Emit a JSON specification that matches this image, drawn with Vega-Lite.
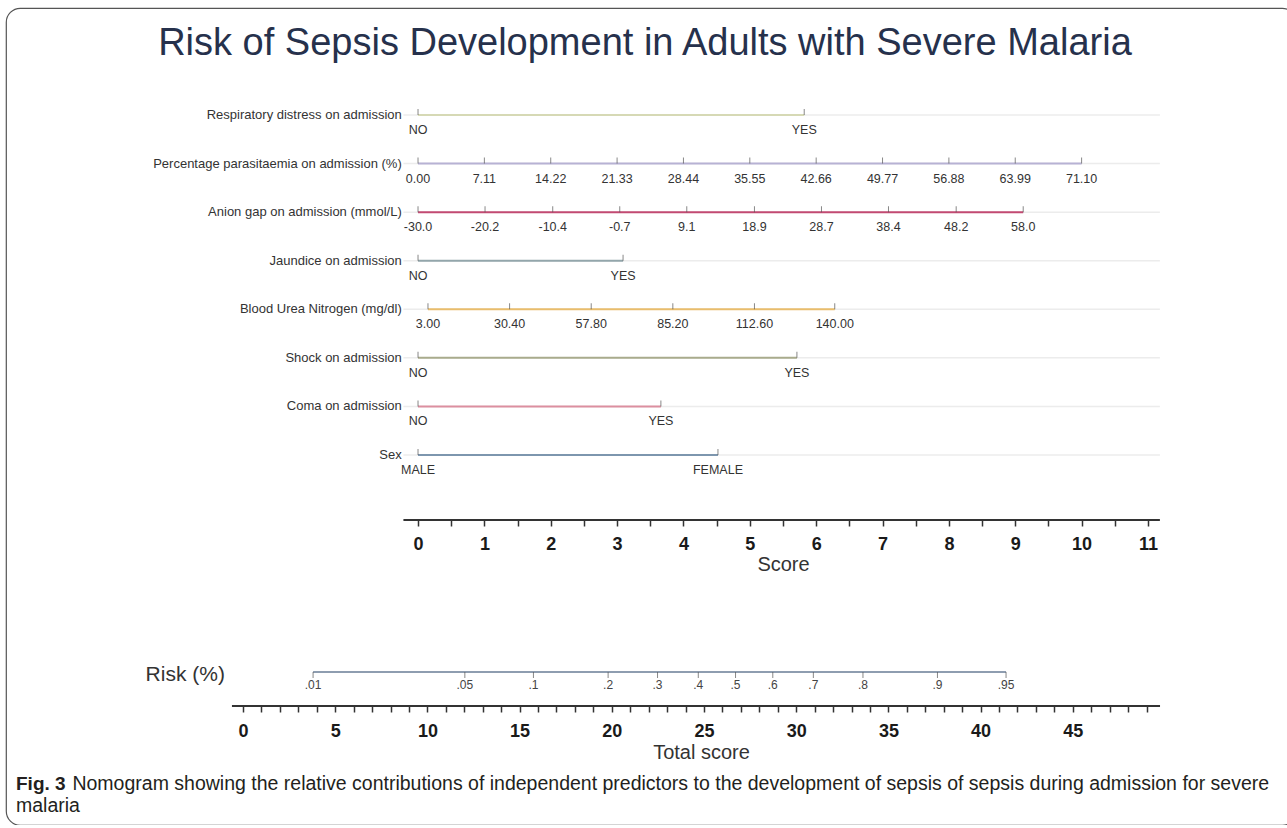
{
  "$schema": "https://vega.github.io/schema/vega-lite/v6.json",
  "width": 1290,
  "height": 817,
  "autosize": "none",
  "padding": {"left": 6, "top": 8, "right": 0, "bottom": 0},
  "background": "white",
  "config": {
    "view": {"stroke": "#555555", "strokeWidth": 1.2, "cornerRadius": 14},
    "font": "Liberation Sans"
  },
  "datasets": {
    "vars": [
      {"var": "Respiratory distress on admission", "row": 1, "min": 0, "max": 5.82},
      {"var": "Percentage parasitaemia on admission (%)", "row": 2, "min": 0, "max": 10},
      {"var": "Anion gap on admission (mmol/L)", "row": 3, "min": 0, "max": 9.12},
      {"var": "Jaundice on admission", "row": 4, "min": 0, "max": 3.09},
      {"var": "Blood Urea Nitrogen (mg/dl)", "row": 5, "min": 0.15, "max": 6.28},
      {"var": "Shock on admission", "row": 6, "min": 0, "max": 5.71},
      {"var": "Coma on admission", "row": 7, "min": 0, "max": 3.66},
      {"var": "Sex", "row": 8, "min": 0, "max": 4.52}
    ],
    "ticks": [
      {"row": 1, "points": 0, "label": "NO"},
      {"row": 1, "points": 5.82, "label": "YES"},
      {"row": 2, "points": 0, "label": "0.00"},
      {"row": 2, "points": 1, "label": "7.11"},
      {"row": 2, "points": 2, "label": "14.22"},
      {"row": 2, "points": 3, "label": "21.33"},
      {"row": 2, "points": 4, "label": "28.44"},
      {"row": 2, "points": 5, "label": "35.55"},
      {"row": 2, "points": 6, "label": "42.66"},
      {"row": 2, "points": 7, "label": "49.77"},
      {"row": 2, "points": 8, "label": "56.88"},
      {"row": 2, "points": 9, "label": "63.99"},
      {"row": 2, "points": 10, "label": "71.10"},
      {"row": 3, "points": 0, "label": "-30.0"},
      {"row": 3, "points": 1.01, "label": "-20.2"},
      {"row": 3, "points": 2.03, "label": "-10.4"},
      {"row": 3, "points": 3.04, "label": "-0.7"},
      {"row": 3, "points": 4.05, "label": "9.1"},
      {"row": 3, "points": 5.07, "label": "18.9"},
      {"row": 3, "points": 6.08, "label": "28.7"},
      {"row": 3, "points": 7.09, "label": "38.4"},
      {"row": 3, "points": 8.11, "label": "48.2"},
      {"row": 3, "points": 9.12, "label": "58.0"},
      {"row": 4, "points": 0, "label": "NO"},
      {"row": 4, "points": 3.09, "label": "YES"},
      {"row": 5, "points": 0.15, "label": "3.00"},
      {"row": 5, "points": 1.38, "label": "30.40"},
      {"row": 5, "points": 2.61, "label": "57.80"},
      {"row": 5, "points": 3.84, "label": "85.20"},
      {"row": 5, "points": 5.07, "label": "112.60"},
      {"row": 5, "points": 6.28, "label": "140.00"},
      {"row": 6, "points": 0, "label": "NO"},
      {"row": 6, "points": 5.71, "label": "YES"},
      {"row": 7, "points": 0, "label": "NO"},
      {"row": 7, "points": 3.66, "label": "YES"},
      {"row": 8, "points": 0, "label": "MALE"},
      {"row": 8, "points": 4.52, "label": "FEMALE"}
    ],
    "risk": [
      {"risk": ".01", "total": 3.8},
      {"risk": ".05", "total": 12.03},
      {"risk": ".1", "total": 15.75},
      {"risk": ".2", "total": 19.8},
      {"risk": ".3", "total": 22.48},
      {"risk": ".4", "total": 24.69},
      {"risk": ".5", "total": 26.71},
      {"risk": ".6", "total": 28.73},
      {"risk": ".7", "total": 30.93},
      {"risk": ".8", "total": 33.62},
      {"risk": ".9", "total": 37.66},
      {"risk": ".95", "total": 41.38}
    ],
    "one": [{}]
  },
  "resolve": {"scale": {"x": "independent"}, "axis": {"x": "independent"}},
  "layer": [
    {
      "data": {"name": "vars"},
      "mark": {"type": "rule", "color": "#ececec", "strokeWidth": 1.5},
      "encoding": {
        "x": {"datum": -0.22, "type": "quantitative", "scale": {"domain": [-6.209, 13.231], "nice": false, "zero": false}, "axis": null},
        "x2": {"datum": 11.18},
        "y": {"field": "row", "type": "quantitative", "scale": {"domain": [-1.203, 15.618], "reverse": true, "nice": false, "zero": false}, "axis": null}
      }
    },
    {
      "data": {"name": "vars"},
      "mark": {"type": "rule", "strokeWidth": 2},
      "encoding": {
        "x": {"field": "min", "type": "quantitative", "scale": {"domain": [-6.209, 13.231], "nice": false, "zero": false}, "axis": null},
        "x2": {"field": "max"},
        "y": {"field": "row", "type": "quantitative", "scale": {"domain": [-1.203, 15.618], "reverse": true, "nice": false, "zero": false}, "axis": null},
        "color": {
          "field": "var", "type": "nominal", "legend": null,
          "scale": {
            "domain": ["Respiratory distress on admission", "Percentage parasitaemia on admission (%)", "Anion gap on admission (mmol/L)", "Jaundice on admission", "Blood Urea Nitrogen (mg/dl)", "Shock on admission", "Coma on admission", "Sex"],
            "range": ["#d6d9b5", "#b7b2d4", "#c24a72", "#93a6ab", "#e9bd6c", "#a9ab8c", "#dc8fa0", "#7d96ae"]
          }
        }
      }
    },
    {
      "data": {"name": "ticks"},
      "mark": {"type": "tick", "orient": "vertical", "size": 6, "thickness": 1, "color": "#555555", "yOffset": -3},
      "encoding": {
        "x": {"field": "points", "type": "quantitative", "scale": {"domain": [-6.209, 13.231], "nice": false, "zero": false}, "axis": null},
        "y": {"field": "row", "type": "quantitative", "scale": {"domain": [-1.203, 15.618], "reverse": true, "nice": false, "zero": false}, "axis": null}
      }
    },
    {
      "data": {"name": "ticks"},
      "mark": {"type": "text", "fontSize": 12.5, "color": "#333333", "dy": 15, "baseline": "middle"},
      "encoding": {
        "x": {"field": "points", "type": "quantitative", "scale": {"domain": [-6.209, 13.231], "nice": false, "zero": false}, "axis": null},
        "y": {"field": "row", "type": "quantitative", "scale": {"domain": [-1.203, 15.618], "reverse": true, "nice": false, "zero": false}, "axis": null},
        "text": {"field": "label"}
      }
    },
    {
      "data": {"name": "vars"},
      "mark": {"type": "text", "fontSize": 13, "color": "#333333", "align": "right", "baseline": "middle", "dx": -3},
      "encoding": {
        "x": {"datum": -0.2, "type": "quantitative", "scale": {"domain": [-6.209, 13.231], "nice": false, "zero": false}, "axis": null},
        "y": {"field": "row", "type": "quantitative", "scale": {"domain": [-1.203, 15.618], "reverse": true, "nice": false, "zero": false}, "axis": null},
        "text": {"field": "var"}
      }
    },
    {
      "data": {"name": "one"},
      "mark": {"type": "rule", "color": "#333333", "strokeWidth": 2},
      "encoding": {
        "x": {
          "datum": -0.22, "type": "quantitative",
          "scale": {"domain": [-6.209, 13.231], "nice": false, "zero": false},
          "axis": {
            "orient": "bottom", "offset": -305,
            "values": [0, 0.5, 1, 1.5, 2, 2.5, 3, 3.5, 4, 4.5, 5, 5.5, 6, 6.5, 7, 7.5, 8, 8.5, 9, 9.5, 10, 10.5, 11],
            "labelExpr": "datum.value % 1 === 0 ? format(datum.value, 'd') : ''",
            "domain": false, "grid": false, "ticks": true, "tickSize": 6, "tickWidth": 1.5, "tickColor": "#333333",
            "labelFont": "Liberation Sans", "labelFontSize": 18, "labelFontWeight": "bold", "labelColor": "#1a1a1a",
            "labelPadding": 9, "labelOverlap": false, "labelFlush": false,
            "title": "Score", "titleFont": "Liberation Sans", "titleFontSize": 20, "titleFontWeight": "normal",
            "titleColor": "#333333", "titleX": 777, "titleY": 44, "titleBaseline": "middle", "titleAlign": "center"
          }
        },
        "x2": {"datum": 11.18},
        "y": {"datum": 9.338, "type": "quantitative", "scale": {"domain": [-1.203, 15.618], "reverse": true, "nice": false, "zero": false}, "axis": null}
      }
    },
    {
      "data": {"name": "risk"},
      "mark": {"type": "rule", "color": "#8e9db0", "strokeWidth": 2},
      "encoding": {
        "x": {"aggregate": "min", "field": "total", "type": "quantitative", "scale": {"domain": [-12.853, 57.104], "nice": false, "zero": false}, "axis": null},
        "x2": {"aggregate": "max", "field": "total"},
        "y": {"datum": 12.468, "type": "quantitative", "scale": {"domain": [-1.203, 15.618], "reverse": true, "nice": false, "zero": false}, "axis": null}
      }
    },
    {
      "data": {"name": "risk"},
      "mark": {"type": "tick", "orient": "vertical", "size": 6, "thickness": 1, "color": "#555555", "yOffset": 3},
      "encoding": {
        "x": {"field": "total", "type": "quantitative", "scale": {"domain": [-12.853, 57.104], "nice": false, "zero": false}, "axis": null},
        "y": {"datum": 12.468, "type": "quantitative", "scale": {"domain": [-1.203, 15.618], "reverse": true, "nice": false, "zero": false}, "axis": null}
      }
    },
    {
      "data": {"name": "risk"},
      "mark": {"type": "text", "fontSize": 12, "color": "#444444", "dy": 13, "baseline": "middle"},
      "encoding": {
        "x": {"field": "total", "type": "quantitative", "scale": {"domain": [-12.853, 57.104], "nice": false, "zero": false}, "axis": null},
        "y": {"datum": 12.468, "type": "quantitative", "scale": {"domain": [-1.203, 15.618], "reverse": true, "nice": false, "zero": false}, "axis": null},
        "text": {"field": "risk"}
      }
    },
    {
      "data": {"name": "one"},
      "mark": {"type": "text", "fontSize": 21, "color": "#333333", "align": "right", "baseline": "middle", "text": "Risk (%)"},
      "encoding": {
        "x": {"datum": -0.98, "type": "quantitative", "scale": {"domain": [-12.853, 57.104], "nice": false, "zero": false}, "axis": null},
        "y": {"datum": 12.53, "type": "quantitative", "scale": {"domain": [-1.203, 15.618], "reverse": true, "nice": false, "zero": false}, "axis": null}
      }
    },
    {
      "data": {"name": "one"},
      "mark": {"type": "rule", "color": "#333333", "strokeWidth": 2},
      "encoding": {
        "x": {
          "datum": -0.6, "type": "quantitative",
          "scale": {"domain": [-12.853, 57.104], "nice": false, "zero": false},
          "axis": {
            "orient": "bottom", "offset": -119,
            "values": [0, 1, 2, 3, 4, 5, 6, 7, 8, 9, 10, 11, 12, 13, 14, 15, 16, 17, 18, 19, 20, 21, 22, 23, 24, 25, 26, 27, 28, 29, 30, 31, 32, 33, 34, 35, 36, 37, 38, 39, 40, 41, 42, 43, 44, 45, 46, 47, 48, 49],
            "labelExpr": "datum.value % 5 === 0 ? format(datum.value, 'd') : ''",
            "domain": false, "grid": false, "ticks": true, "tickSize": 6, "tickWidth": 1.5, "tickColor": "#333333",
            "labelFont": "Liberation Sans", "labelFontSize": 18, "labelFontWeight": "bold", "labelColor": "#1a1a1a",
            "labelPadding": 10, "labelOverlap": false, "labelFlush": false,
            "title": "Total score", "titleFont": "Liberation Sans", "titleFontSize": 20, "titleFontWeight": "normal",
            "titleColor": "#333333", "titleX": 695, "titleY": 46, "titleBaseline": "middle", "titleAlign": "center"
          }
        },
        "x2": {"datum": 49.73},
        "y": {"datum": 13.168, "type": "quantitative", "scale": {"domain": [-1.203, 15.618], "reverse": true, "nice": false, "zero": false}, "axis": null}
      }
    },
    {
      "data": {"name": "one"},
      "mark": {"type": "text", "fontSize": 38, "color": "#26314c", "align": "center", "baseline": "alphabetic", "text": "Risk of Sepsis Development in Adults with Severe Malaria"},
      "encoding": {
        "x": {"datum": 3.42, "type": "quantitative", "scale": {"domain": [-6.209, 13.231], "nice": false, "zero": false}, "axis": null},
        "y": {"datum": -0.235, "type": "quantitative", "scale": {"domain": [-1.203, 15.618], "reverse": true, "nice": false, "zero": false}, "axis": null}
      }
    },
    {
      "data": {"name": "one"},
      "mark": {"type": "text", "fontSize": 19, "fontWeight": "bold", "color": "#231f20", "align": "left", "baseline": "alphabetic", "text": "Fig. 3"},
      "encoding": {
        "x": {"datum": -12.31, "type": "quantitative", "scale": {"domain": [-12.853, 57.104], "nice": false, "zero": false}, "axis": null},
        "y": {"datum": 14.897, "type": "quantitative", "scale": {"domain": [-1.203, 15.618], "reverse": true, "nice": false, "zero": false}, "axis": null}
      }
    },
    {
      "data": {"name": "one"},
      "mark": {"type": "text", "fontSize": 19.5, "color": "#231f20", "align": "left", "baseline": "alphabetic", "text": "Nomogram showing the relative contributions of independent predictors to the development of sepsis of sepsis during admission for severe"},
      "encoding": {
        "x": {"datum": -9.25, "type": "quantitative", "scale": {"domain": [-12.853, 57.104], "nice": false, "zero": false}, "axis": null},
        "y": {"datum": 14.897, "type": "quantitative", "scale": {"domain": [-1.203, 15.618], "reverse": true, "nice": false, "zero": false}, "axis": null}
      }
    },
    {
      "data": {"name": "one"},
      "mark": {"type": "text", "fontSize": 19.5, "color": "#231f20", "align": "left", "baseline": "alphabetic", "text": "malaria"},
      "encoding": {
        "x": {"datum": -12.31, "type": "quantitative", "scale": {"domain": [-12.853, 57.104], "nice": false, "zero": false}, "axis": null},
        "y": {"datum": 15.35, "type": "quantitative", "scale": {"domain": [-1.203, 15.618], "reverse": true, "nice": false, "zero": false}, "axis": null}
      }
    }
  ]
}
